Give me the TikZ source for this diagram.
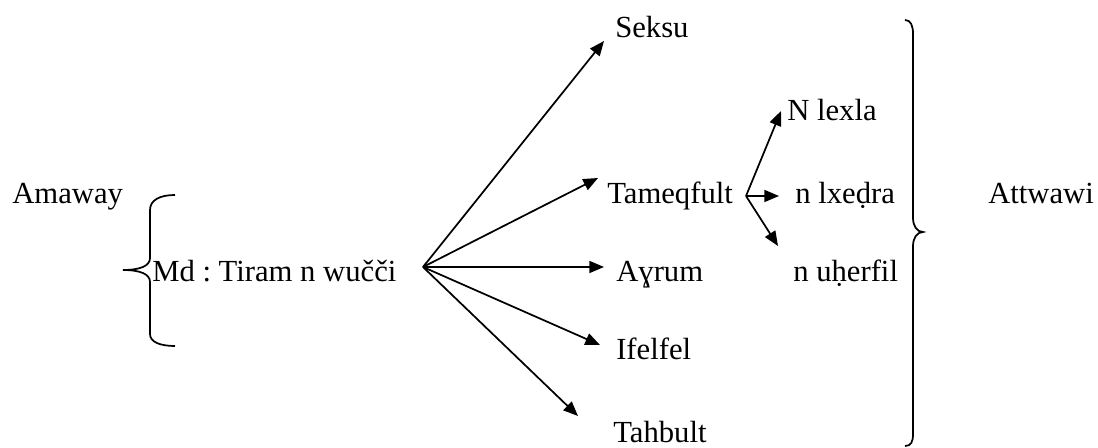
\documentclass[tikz,border=0pt]{standalone}
\usepackage{fontspec}
\setmainfont{Liberation Serif}
\usetikzlibrary{arrows.meta}
\frenchspacing
\begin{document}
\begin{tikzpicture}[x=0.75pt,y=-0.75pt,
  lbl/.style={anchor=base west,inner sep=0pt,font=\fontsize{23}{28}\selectfont},
  arr/.style={line width=1.3pt,-{Triangle[length=11pt,width=9pt]}},
  bracepath/.style={line width=1.3pt}]
\useasboundingbox (0,0) rectangle (1098,448);
% text nodes
\node[lbl] (amaway) at (12,204) {Amaway};
\node[lbl] (md) at (152,282) {Md : Tiram n wučči};
\node[lbl] (seksu) at (615,38) {Seksu};
\node[lbl] (lexla) at (787,121) {N lexla};
\node[lbl] (tameq) at (607,204) {Tameqfult};
\node[lbl] (lxedra) at (795,204) {n lxeḍra};
\node[lbl] (ayrum) at (616,282) {Aɣrum};
\node[lbl] (uherfil) at (793,282) {n uḥerfil};
\node[lbl] (ifelfel) at (616,359) {Ifelfel};
\node[lbl] (tahbult) at (613,442) {Tahbult};
\node[lbl] (attwawi) at (988,204) {Attwawi};
% fan
\coordinate (o) at (423,267);
\coordinate (tseksu) at (604,41);
\coordinate (ttameq) at (598,178);
\coordinate (tayrum) at (604,267);
\coordinate (tifelfel) at (600,345);
\coordinate (ttahbult) at (578,416);
\draw[arr] (o) -- (tseksu);
\draw[arr] (o) -- (ttameq);
\draw[arr] (o) -- (tayrum);
\draw[arr] (o) -- (tifelfel);
\draw[arr] (o) -- (ttahbult);
% sub fan
\coordinate (s) at (746,196);
\coordinate (tlexla) at (781,111);
\coordinate (tlxedra) at (779,196);
\coordinate (tuherfil) at (778,246);
\draw[arr] (s) -- (tlexla);
\draw[arr] (s) -- (tlxedra);
\draw[arr] (s) -- (tuherfil);
% left brace
\draw[bracepath] (175,195) .. controls (160,195) and (150,200) .. (150,210)
  -- (150,258) .. controls (150,266) and (140,270) .. (123,270)
  .. controls (140,270) and (150,274) .. (150,282)
  -- (150,334) .. controls (150,342) and (160,346) .. (175,346);
% right brace
\draw[bracepath] (905,20) .. controls (911,20) and (913,26) .. (913,34)
  -- (913,218) .. controls (913,226) and (917,232) .. (923,232)
  .. controls (917,232) and (913,238) .. (913,246)
  -- (913,434) .. controls (913,442) and (911,446) .. (905,446);
\end{tikzpicture}
\end{document}
